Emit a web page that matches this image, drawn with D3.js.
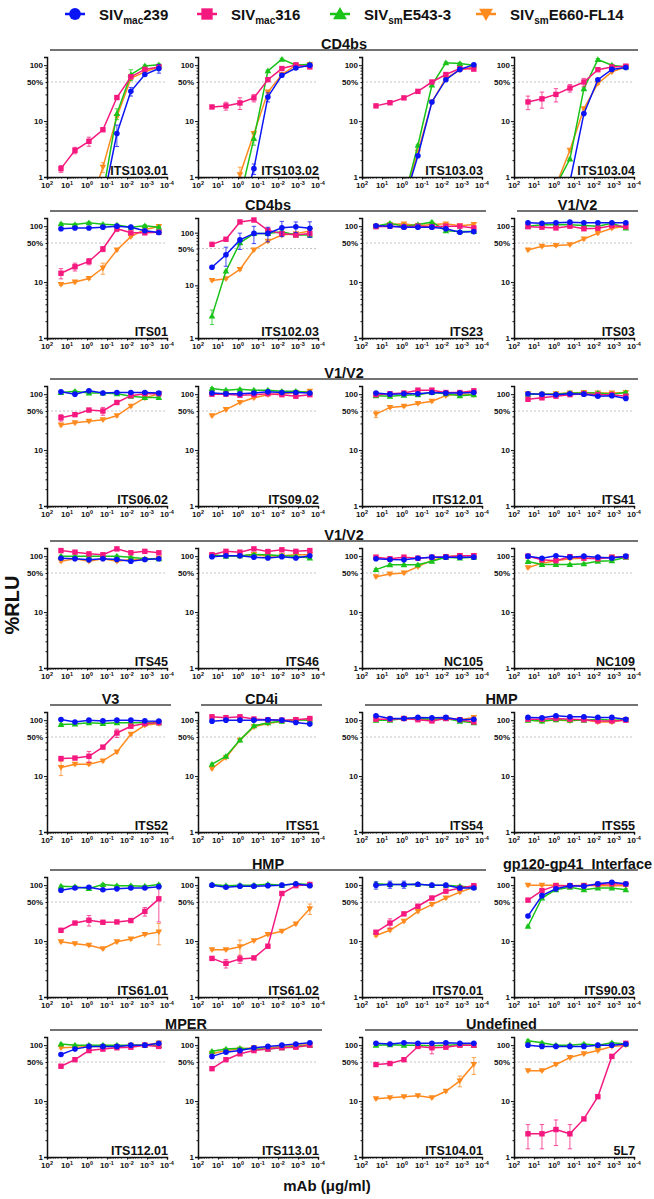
<!DOCTYPE html>
<html>
<head>
<meta charset="utf-8">
<script src="https://cdn.jsdelivr.net/npm/d3@7"></script>
<style>
  body {margin:0; background:#fff;}
  text {font-family:"Liberation Sans", Arial, sans-serif; font-weight:bold; fill:#111;}
</style>
</head>
<body>
<svg id="chart" width="654" height="1199"></svg>
<script>
// mAb concentrations (ug/ml), 5-fold dilutions
var concentrations=[20,4,0.8,0.16,0.032,0.0064,0.00128,0.000256];
var xTicks=[1e2,1e1,1e0,1e-1,1e-2,1e-3,1e-4];
var xTickExponents=['2','1','0','-1','-2','-3','-4'];
var yTicks=[1,10,100];
var yMinorTicks=[2,3,4,5,6,7,8,9,20,30,40,50,60,70,80,90];

var strainNames=[['SIV','mac','239'],['SIV','mac','316'],['SIV','sm','E543-3'],['SIV','sm','E660-FL14']];
var strainColors=['#0a14f5','#f5197f','#19c319','#ff8a1e'];
var strainMarkers=['circle','square','triangleUp','triangleDown'];

// one entry per panel: [blue, pink, green, orange] %RLU values
var panels=[
  {name:'ITS103.01',row:0,col:0,v:[[0.05,0.06,0.1,0.35,6.0,34,68,87],[1.41,3.0,4.35,7.0,26.4,62,84,93],[0.1,0.1,0.2,0.5,13.6,68,97,102],[0.1,0.1,0.27,1.5,12,58,76,93]]},
  {name:'ITS103.02',row:0,col:1,v:[[0.05,0.05,0.19,1.41,27,66,89,100],[17.9,18.7,21.1,26,55,87,101,93],[0.05,0.1,0.41,4.9,79,128,100,104],[0.05,0.1,1.1,6.0,33,68,100,103]]},
  {name:'ITS103.03',row:0,col:2,v:[[0.05,0.05,0.35,2.4,22,55,84,102],[18.7,21.3,26,34,50,68,87,85],[0.05,0.05,0.4,3.7,44,110,107,100],[0.05,0.05,0.4,2.8,22,58,82,93]]},
  {name:'ITS103.04',row:0,col:3,v:[[0.05,0.05,0.1,0.82,13.6,55,84,91],[22,25,30,39,50,83,93,96],[0.05,0.05,0.7,2.1,38,126,100,93],[0.05,0.05,0.7,3.0,16.7,47,76,93]]},

  {name:'ITS01',row:1,col:0,v:[[90,93,93,96,100,96,83,77],[14.4,18.8,23.4,39,90,76,76,78],[110,107,115,108,105,96,102,96],[9.1,10,11.6,17.8,37.5,65,87,99]]},
  {name:'ITS102.03',row:1,col:1,ymax:190,v:[[22,38,73,97,97,124,130,121],[60,75,160,174,111,96,90,96],[2.6,18.6,64,96,96,104,90,90],[12.4,13.3,20,47,69,90,96,108]]},
  {name:'ITS23',row:1,col:2,v:[[102,100,96,96,96,90,78,80],[98,100,98,100,98,100,100,93],[100,113,100,107,118,83,80,80],[100,107,110,102,107,110,102,107]]},
  {name:'ITS03',row:1,col:3,v:[[115,113,115,118,115,115,115,115],[98,96,93,100,90,92,102,98],[100,106,107,106,103,100,113,93],[37.5,43.6,45,46.7,59,75,92,100]]},

  {name:'ITS06.02',row:2,col:0,v:[[110,100,115,105,107,107,107,105],[38,43,52,50,71,94,102,102],[107,113,105,105,102,92,87,87],[28,30.7,32.8,35,41,61,86,102]]},
  {name:'ITS09.02',row:2,col:1,v:[[105,102,102,105,110,107,107,105],[100,100,96,98,102,98,92,98],[126,118,122,118,118,113,113,107],[41,53,71,86,98,102,107,113]]},
  {name:'ITS12.01',row:2,col:2,v:[[105,100,102,102,107,105,105,107],[98,102,105,118,118,107,107,115],[94,92,96,98,107,102,94,98],[44,58,61,68,75,94,102,98]]},
  {name:'ITS41',row:2,col:3,v:[[102,100,98,102,100,92,94,84],[81,86,92,98,102,98,98,92],[100,100,100,105,105,105,100,107],[102,100,102,105,107,105,105,107]]},

  {name:'ITS45',row:3,col:0,v:[[92,90,86,90,87,81,87,90],[126,118,110,106,135,115,122,115],[100,100,100,100,100,96,90,90],[81,90,81,90,81,87,87,92]]},
  {name:'ITS46',row:3,col:1,v:[[98,102,102,96,93,98,93,102],[106,122,118,135,121,130,122,126],[106,100,102,107,106,102,100,93],[102,102,100,107,100,102,106,106]]},
  {name:'NC105',row:3,col:2,v:[[90,87,86,92,96,96,96,96],[96,90,96,92,96,98,102,102],[57.5,70,70,70,81,96,93,96],[43,48,50,65,84,98,102,102]]},
  {name:'NC109',row:3,col:3,v:[[100,92,102,96,100,96,93,100],[100,86,83,98,92,90,96,98],[80,71,71,71,73,81,83,96],[62,75,83,90,92,92,96,98]]},

  {name:'ITS52',row:4,col:0,v:[[103,93,100,97,100,100,97,96],[20.6,21,22.6,33,59,78,87,90],[84,85,90,87,90,90,90,90],[14.2,16.3,16.3,18.7,27,56,81,87]]},
  {name:'ITS51',row:4,col:1,v:[[96,100,100,100,102,100,91,85],[115,111,115,105,102,100,102,107],[16.3,22.6,44,79,90,96,102,100],[13.6,21.4,44,76,87,96,102,100]]},
  {name:'ITS54',row:4,col:2,v:[[120,107,107,112,110,112,102,104],[104,104,107,102,97,107,102,93],[100,100,107,107,104,107,96,90],[102,104,107,104,102,110,102,112]]},
  {name:'ITS55',row:4,col:3,v:[[112,110,120,115,115,112,112,104],[104,104,107,104,102,97,97,100],[100,97,102,100,100,104,100,102],[102,96,102,97,102,93,93,102]]},

  {name:'ITS61.01',row:5,col:0,v:[[81,89,92,83,86,89,89,94],[15.6,21,23.6,21.7,22,23.3,34,57],[96,94,87,103,98,98,96,103],[9.7,9.0,8.4,7.3,9.7,10.9,13.1,14.6]]},
  {name:'ITS61.02',row:5,col:1,v:[[100,92,96,96,98,100,106,98],[4.9,4.0,4.8,5.0,8.1,71,98,103],[103,98,100,100,104,100,106,103],[7.0,7.0,7.9,10.2,13.1,15,20.3,38]]},
  {name:'ITS70.01',row:5,col:2,v:[[100,103,103,104,100,100,89,89],[14.4,21,30.7,42,59,78,89,98],[106,103,103,104,100,100,96,92],[12.6,15.6,22.6,34,45,59,75,92]]},
  {name:'ITS90.03',row:5,col:3,v:[[28,65,86,98,96,106,113,106],[54,80,98,98,98,103,106,104],[18.4,59,83,92,83,89,89,83],[100,100,100,98,100,98,98,98]]},

  {name:'ITS112.01',row:6,col:0,v:[[68,85,95,95,95,100,100,108],[42,55,80,85,90,92,100,95],[105,100,100,100,100,100,100,100],[90,92,95,95,95,100,100,110]]},
  {name:'ITS113.01',row:6,col:1,v:[[63,75,80,90,95,100,105,110],[38,55,70,80,85,90,92,100],[78,85,88,85,85,90,95,100],[70,80,85,90,90,95,100,102]]},
  {name:'ITS104.01',row:6,col:2,v:[[108,105,110,108,108,110,108,108],[45,47,55,95,90,92,100,100],[100,102,100,100,98,100,102,100],[11,11.5,12,12.5,11.5,15,23,45]]},
  {name:'5L7',row:6,col:3,v:[[100,95,95,95,95,100,100,105],[2.6,2.6,3.1,2.6,4.8,12,63,108],[120,110,100,100,105,100,110,105],[35,35,45,60,70,80,95,100]]}
];

// visible error bars: [panel, strain index, point index, SD in %RLU]
var errorBars=[
  ['ITS103.01',1,0,0.2],['ITS103.01',1,1,0.4],['ITS103.01',1,2,0.8],['ITS103.01',2,4,3],['ITS103.01',2,5,15],['ITS103.01',0,4,2.5],['ITS103.01',0,5,6],['ITS103.01',0,7,15],['ITS103.01',3,3,0.3],
  ['ITS103.02',1,1,3],['ITS103.02',1,2,5],['ITS103.02',1,3,4],['ITS103.02',3,2,0.4],['ITS103.02',0,3,0.3],['ITS103.02',0,4,5],['ITS103.02',2,3,1.2],
  ['ITS103.04',1,0,6],['ITS103.04',1,1,8],['ITS103.04',1,2,8],['ITS103.04',1,3,6],['ITS103.04',1,4,8],
  ['ITS102.03',0,1,15],['ITS102.03',0,2,25],['ITS102.03',0,3,35],['ITS102.03',0,4,30],['ITS102.03',0,5,40],['ITS102.03',0,6,30],['ITS102.03',0,7,40],['ITS102.03',2,0,0.8],
  ['ITS01',1,0,3],['ITS01',1,1,3],['ITS01',1,2,3],['ITS01',1,3,4],['ITS01',1,4,10],['ITS01',3,3,4],
  ['ITS06.02',1,0,5],['ITS06.02',1,3,8],['ITS12.01',3,0,6],
  ['ITS52',3,0,4],['ITS52',1,2,5],['ITS52',1,4,10],
  ['ITS61.01',1,7,35],['ITS61.01',3,7,6],['ITS61.01',1,2,5],['ITS61.01',1,6,6],
  ['ITS61.02',3,2,2.5],['ITS61.02',1,1,0.7],['ITS61.02',1,2,0.8],['ITS61.02',3,7,8],
  ['ITS70.01',1,1,4],['ITS70.01',0,0,15],['ITS70.01',0,1,15],['ITS70.01',0,2,15],
  ['ITS104.01',3,7,15],['ITS104.01',3,6,5],['ITS104.01',1,4,20],
  ['5L7',1,0,1.2],['5L7',1,1,1.2],['5L7',1,2,1.5],['5L7',1,3,1.2]
];

// section headers: [label, row, first column, last column]
var sections=[
  ['CD4bs',0,0,3],
  ['CD4bs',1,0,2],['V1/V2',1,3,3],
  ['V1/V2',2,0,3],
  ['V1/V2',3,0,3],
  ['V3',4,0,0],['CD4i',4,1,1],['HMP',4,2,3],
  ['HMP',5,0,2],['gp120-gp41  Interface',5,3,3],
  ['MPER',6,0,1],['Undefined',6,2,3]
];

var svg=d3.select('#chart');
var colX=[47,198,362,514];
var rowBottom=[177,338,506,668,832,997,1157];
var plotW=120;
var plotH=120;
var defaultYmax=140;

// legend
var legendX=[75,207,340,486];
strainNames.forEach(function(s,i) {
  var g=svg.append('g').attr('transform','translate('+legendX[i]+',14)');
  g.append('line').attr('x1',-10).attr('x2',10).attr('stroke',strainColors[i]).attr('stroke-width',2.5);
  drawMarker(g,strainMarkers[i],0,0,strainColors[i],2.1);
  var t=g.append('text').attr('x',24).attr('y',6).style('font-size','15px');
  t.append('tspan').text(s[0]);
  t.append('tspan').attr('dy',4).style('font-size','10px').text(s[1]);
  t.append('tspan').attr('dy',-4).text(s[2]);
});

// section headers
sections.forEach(function(s) {
  var y=rowBottom[s[1]]-127;
  var x1=colX[s[2]]+3, x2=colX[s[3]]+plotW+4;
  svg.append('line').attr('x1',x1).attr('x2',x2).attr('y1',y).attr('y2',y)
    .attr('stroke','#444').attr('stroke-width',1.3);
  svg.append('text').attr('x',(x1+x2)/2).attr('y',y-1).attr('text-anchor','middle')
    .style('font-size','14.5px').style('white-space','pre').attr('xml:space','preserve').text(s[0]);
});

panels.forEach(function(p,pi) {
  var x0=colX[p.col];
  var y1=rowBottom[p.row];
  var ymax=p.ymax||defaultYmax;
  var x=d3.scaleLog().domain([1e2,1e-4]).range([x0,x0+plotW]);
  var y=d3.scaleLog().domain([1,ymax]).range([y1,y1-plotH]);
  var g=svg.append('g');

  var clipId='clip'+pi;
  svg.append('clipPath').attr('id',clipId).append('rect')
    .attr('x',x0).attr('y',y1-plotH-12).attr('width',plotW+6).attr('height',plotH+12);

  // 50% reference line
  g.append('line').attr('x1',x0).attr('x2',x0+plotW).attr('y1',y(50)).attr('y2',y(50))
    .attr('stroke','#bdbdbd').attr('stroke-width',0.9).attr('stroke-dasharray','2,2');

  // series: draw orange, green, pink, blue (blue on top)
  var plot=g.append('g').attr('clip-path','url(#'+clipId+')');
  [3,2,1,0].forEach(function(si) {
    var vals=p.v[si];
    var color=strainColors[si];
    var pts=concentrations.map(function(c,i) {return {c:c,v:vals[i],i:i};});
    var line=d3.line().x(function(d) {return x(d.c);}).y(function(d) {return y(d.v);});
    plot.append('path').attr('d',line(pts)).attr('fill','none')
      .attr('stroke',color).attr('stroke-width',1.5);
    pts.forEach(function(d) {
      if (d.v<1) return;
      var sd=d.v*0.04;
      errorBars.forEach(function(e) {
        if (e[0]===p.name&&e[1]===si&&e[2]===d.i) sd=e[3];
      });
      var lo=Math.max(1,d.v-sd), hi=d.v+sd;
      var cx=x(d.c);
      plot.append('path')
        .attr('d','M'+cx+','+y(lo)+'V'+y(hi)+'M'+(cx-2.2)+','+y(lo)+'h4.4M'+(cx-2.2)+','+y(hi)+'h4.4')
        .attr('stroke',color).attr('stroke-width',1).attr('fill','none').attr('opacity',0.75);
      drawMarker(plot,strainMarkers[si],cx,y(d.v),color,1);
    });
  });

  // y axis
  var yAxis=d3.axisLeft(y).tickValues(yTicks).tickFormat(d3.format('d')).tickSize(3).tickPadding(1);
  var ya=g.append('g').attr('transform','translate('+x0+',0)').call(yAxis);
  var yMinor=d3.axisLeft(y).tickValues(yMinorTicks.filter(function(v) {return v<ymax;})).tickFormat('').tickSize(1.5);
  g.append('g').attr('transform','translate('+x0+',0)').call(yMinor).select('.domain').remove();
  g.append('text').attr('x',x0-4).attr('y',y(50)+3).attr('text-anchor','end')
    .style('font-size','8px').text('50%');

  // x axis
  var xAxis=d3.axisBottom(x).tickValues(xTicks).tickFormat('').tickSize(2.5);
  var xa=g.append('g').attr('transform','translate(0,'+y1+')').call(xAxis);
  var minors=[];
  for (var e=-4; e<2; e++) for (var k=2; k<10; k++) minors.push(k*Math.pow(10,e));
  g.append('g').attr('transform','translate(0,'+y1+')')
    .call(d3.axisBottom(x).tickValues(minors).tickFormat('').tickSize(1.5)).select('.domain').remove();
  xTicks.forEach(function(t,i) {
    var lab=g.append('text').attr('x',x(t)).attr('y',y1+11).attr('text-anchor','middle').style('font-size','8px');
    lab.append('tspan').text('10');
    lab.append('tspan').attr('dy',-3.5).style('font-size','5.5px').text(xTickExponents[i]);
  });

  [ya,xa].forEach(function(a) {
    a.selectAll('.domain').attr('stroke','#111').attr('stroke-width',1.5);
    a.selectAll('.tick line').attr('stroke','#111').attr('stroke-width',1);
    a.selectAll('.tick text').style('font-size','8px').style('font-family','"Liberation Sans", Arial, sans-serif').style('font-weight','bold').attr('fill','#111');
  });
  g.selectAll('.tick line').attr('stroke','#111');
  g.selectAll('path.domain').attr('stroke','#111');

  g.append('text').attr('x',x0+plotW+1).attr('y',y1-2).attr('text-anchor','end')
    .style('font-size','12.5px').text(p.name);
});

// axis titles
svg.append('text').attr('transform','translate(19,605) rotate(-90)').attr('text-anchor','middle')
  .style('font-size','20px').text('%RLU');
svg.append('text').attr('x',327).attr('y',1191).attr('text-anchor','middle')
  .style('font-size','15px').text('mAb (\u03bcg/ml)');

function drawMarker(sel,type,cx,cy,color,scale) {
  var s=scale||1;
  if (type==='circle') {
    sel.append('circle').attr('cx',cx).attr('cy',cy).attr('r',2.8*s).attr('fill',color);
  } else if (type==='square') {
    var h=2.7*s;
    sel.append('rect').attr('x',cx-h).attr('y',cy-h).attr('width',2*h).attr('height',2*h).attr('fill',color);
  } else if (type==='triangleUp') {
    var a=3.3*s;
    sel.append('path').attr('d','M'+cx+','+(cy-a)+'L'+(cx+a)+','+(cy+a*0.75)+'L'+(cx-a)+','+(cy+a*0.75)+'Z').attr('fill',color);
  } else {
    var b=3.3*s;
    sel.append('path').attr('d','M'+cx+','+(cy+b)+'L'+(cx+b)+','+(cy-b*0.75)+'L'+(cx-b)+','+(cy-b*0.75)+'Z').attr('fill',color);
  }
}
</script>
</body>
</html>
